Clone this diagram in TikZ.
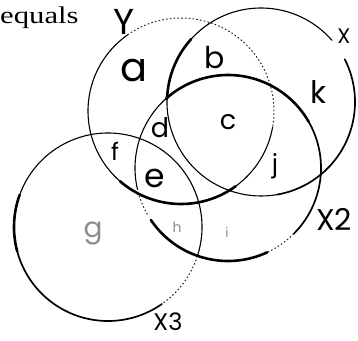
\documentclass[tikz,border=0pt]{standalone}
\usepackage{fontspec}
\setmainfont{Liberation Serif}
\newfontfamily\hand{Poppins}
\newcommand\hsz[1]{\fontsize{#1}{#1}\selectfont}
\tikzset{
  thinline/.style={line width=1.1pt, line cap=round},
  medline/.style={line width=1.7pt, line cap=round},
  thickline/.style={line width=2.6pt, line cap=round},
  dotline/.style={line width=1pt, dash pattern=on 1.6pt off 2.2pt, black!85},
  hw/.style={font=\hand, inner sep=0pt},
  faint/.style={hw, text=black!45},
}
\begin{document}
\begin{tikzpicture}[x=1pt,y=1pt]
\useasboundingbox (0,0) rectangle (358,-340);
% centres
\coordinate (cY) at (181,-111);
\coordinate (cX) at (261,-102);
\coordinate (cXb) at (228,-168);
\coordinate (cXc) at (108,-227);
% circle Y
\draw[thinline] (cY) ++(132:93pt) arc[start angle=132, end angle=229, radius=93pt];
\draw[thinline] (cY) ++(125:93pt) arc[start angle=125, end angle=132, radius=93pt];
\draw[dotline]  (cY) ++(125:93pt) arc[start angle=125, end angle=-10, radius=93pt];
\draw[thinline] (cY) ++(-10:93pt) arc[start angle=-10, end angle=-54, radius=93pt];
\draw[thickline] (cY) ++(-54:93pt) arc[start angle=-54, end angle=-131, radius=93pt];
% circle X
\draw[thinline] (cX) ++(124:94pt) arc[start angle=124, end angle=41, radius=94pt];
\draw[medline] (cX) ++(27:94pt) arc[start angle=27, end angle=-80, radius=94pt];
\draw[thinline] (cX) ++(-80:94pt) arc[start angle=-80, end angle=-106, radius=94pt];
\draw[thinline] (cX) ++(-106:94pt) arc[start angle=-106, end angle=-236, radius=94pt];
\draw[thickline] (cX) ++(178:94pt) arc[start angle=178, end angle=138, radius=94pt];
% circle X2
\draw[thickline] (cXb) ++(132:93pt) arc[start angle=132, end angle=30, radius=93pt];
\draw[medline] (cXb) ++(30:93pt) arc[start angle=30, end angle=-45, radius=93pt];
\draw[dotline] (cXb) ++(-45:93pt) arc[start angle=-45, end angle=-65, radius=93pt];
\draw[thickline] (cXb) ++(-65:93pt) arc[start angle=-65, end angle=-146, radius=93pt];
\draw[dotline] (cXb) ++(-150:93pt) arc[start angle=-150, end angle=-167, radius=93pt];
\draw[thinline] (cXb) ++(-167:93pt) arc[start angle=-167, end angle=-228, radius=93pt];
% circle X3
\draw[thinline] (cXc) ++(160:94pt) arc[start angle=160, end angle=-18, radius=94pt];
\draw[dotline] (cXc) ++(-18:94pt) arc[start angle=-18, end angle=-55, radius=94pt];
\draw[medline] (cXc) ++(-55:94pt) arc[start angle=-55, end angle=-165, radius=94pt];
\draw[thickline] (cXc) ++(-165:94pt) arc[start angle=-165, end angle=-200, radius=94pt];
% text
\node[anchor=base west, inner sep=0pt] (eq) at (0,-23) {\hsz{24pt}\scalebox{1.28}[1]{equals}};
\node[hw] (lY) at (124,-22) {\hsz{36pt}Y};
\node[hw] (lX) at (344,-36) {\hsz{21pt}X};
\node[hw] (lX2) at (334,-219) {\hsz{30pt}X2};
\node[hw] (lX3) at (168,-322) {\hsz{24pt}X3};
\node[hw] (ra) at (134,-71) {\hsz{40pt}a};
\node[hw] (rb) at (215,-58) {\hsz{30pt}b};
\node[hw] (rc) at (228,-122) {\hsz{27pt}c};
\node[hw] (rd) at (160,-128) {\hsz{27pt}d};
\node[hw] (re) at (155,-178) {\hsz{33pt}e};
\node[hw] (rf) at (115,-151) {\hsz{24pt}f};
\node[faint] (rg) at (93,-233) {\hsz{28pt}g};
\node[faint] (rh) at (177,-227) {\hsz{14pt}h};
\node[faint] (ri) at (227,-233) {\hsz{13pt}i};
\node[hw] (rj) at (275,-166) {\hsz{25pt}j};
\node[hw] (rk) at (318,-92) {\hsz{31pt}k};
\end{tikzpicture}
\end{document}
